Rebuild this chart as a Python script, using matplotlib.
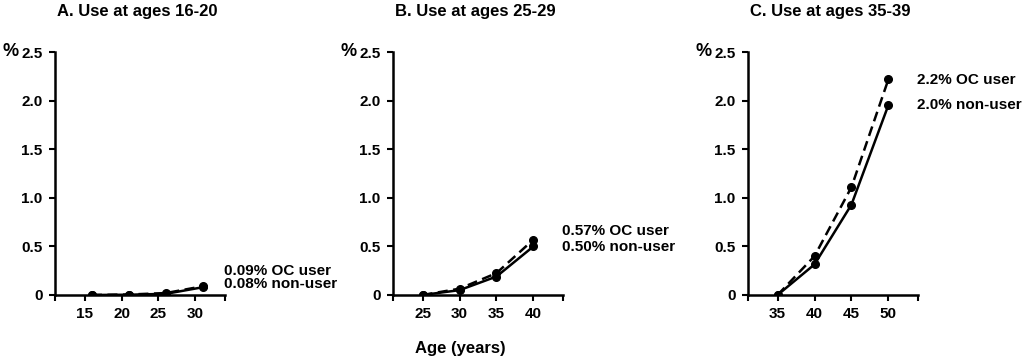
import matplotlib
matplotlib.use('Agg')
import matplotlib.pyplot as plt

plt.rcParams['font.family'] = ['Liberation Sans', 'DejaVu Sans']
plt.rcParams['font.weight'] = 'bold'

# ---- data ----
titles = ['A. Use at ages 16-20', 'B. Use at ages 25-29', 'C. Use at ages 35-39']
ages_a = [16, 21, 26, 31]
ages_b = [25, 30, 35, 40]
ages_c = [35, 40, 45, 50]
oc_a = [0.0, 0.005, 0.02, 0.09]
non_a = [0.0, 0.003, 0.012, 0.08]
oc_b = [0.0, 0.065, 0.225, 0.57]
non_b = [0.0, 0.05, 0.19, 0.50]
oc_c = [0.0, 0.40, 1.11, 2.22]
non_c = [0.0, 0.315, 0.93, 1.955]
xticks_a = [15, 20, 25, 30]
xticks_b = [25, 30, 35, 40]
xticks_c = [35, 40, 45, 50]
xlims = [(11, 34), (21, 44), (31, 54)]
labels_oc = ['0.09% OC user', '0.57% OC user', '2.2% OC user']
labels_non = ['0.08% non-user', '0.50% non-user', '2.0% non-user']
label_y = [(0.25, 0.11), (0.66, 0.49), (2.21, 1.955)]

yticks = [0, 0.5, 1.0, 1.5, 2.0, 2.5]
ytick_labels = ['0', '0.5', '1.0', '1.5', '2.0', '2.5']

fig = plt.figure(figsize=(10.24, 3.6), dpi=100)
lefts = [55 / 1024, 393 / 1024, 748 / 1024]
panels = [(ages_a, oc_a, non_a, xticks_a),
          (ages_b, oc_b, non_b, xticks_b),
          (ages_c, oc_c, non_c, xticks_c)]

for i, (ages, oc, non, xt) in enumerate(panels):
    ax = fig.add_axes([lefts[i], 1 - 295 / 360, 170 / 1024, 243 / 360])
    ax.plot(ages, oc, color='black', lw=1.8, ls=(0, (4, 2.2)), marker='o', ms=5.5)
    ax.plot(ages, non, color='black', lw=1.8, ls='-', marker='o', ms=5.5)
    ax.set_xlim(*xlims[i])
    ax.set_ylim(0, 2.5)
    ax.set_xticks(xt)
    ax.set_xticks(list(xlims[i]), minor=True)
    ax.set_yticks(yticks)
    ax.set_yticklabels(ytick_labels)
    for s in ['top', 'right']:
        ax.spines[s].set_visible(False)
    for s in ['left', 'bottom']:
        ax.spines[s].set_linewidth(1.8)
    ax.tick_params(which='both', direction='out', length=4, width=1.5,
                   labelsize=11, pad=5)
    for lab in ax.get_xticklabels() + ax.get_yticklabels():
        lab.set_fontweight('bold')
    ax.text(0.01, 1.165, titles[i], transform=ax.transAxes, ha='left',
            va='center', fontsize=12, fontweight='bold')
    ax.text(-0.26, 1.0, '%', transform=ax.transAxes, ha='center',
            va='center', fontsize=13, fontweight='bold')
    xr = xlims[i][1] - 0.2
    ax.text(xr, label_y[i][0], labels_oc[i], ha='left', va='center',
            fontsize=11, fontweight='bold', clip_on=False)
    ax.text(xr, label_y[i][1], labels_non[i], ha='left', va='center',
            fontsize=11, fontweight='bold', clip_on=False)

fig.text(460 / 1024, 1 - 349 / 360, 'Age (years)', ha='center', va='center',
         fontsize=12, fontweight='bold')

fig.savefig('out.png', dpi=100)
